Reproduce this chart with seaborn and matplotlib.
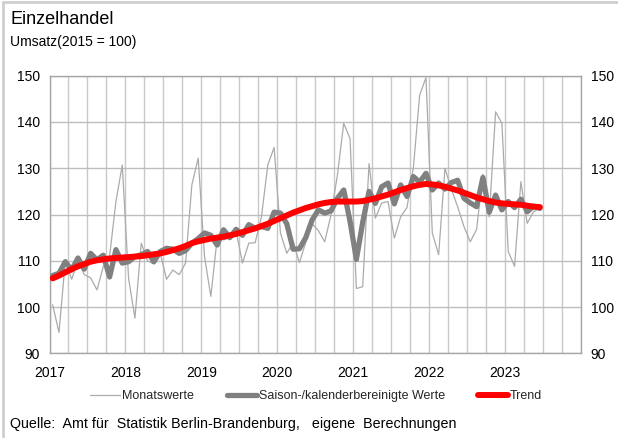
import numpy as np
import pandas as pd
import matplotlib
matplotlib.use("Agg")
import matplotlib.pyplot as plt
from matplotlib.lines import Line2D
import seaborn as sns

# ---- data -------------------------------------------------------------
year_labels = ["2017", "2018", "2019", "2020", "2021", "2022", "2023"]

monatswerte = [
    100.5, 94.5, 110.0, 106.0, 110.0, 107.0, 106.3, 103.7, 108.7, 111.0, 122.8, 130.7,   # 2017
    106.2, 97.6, 113.8, 110.0, 109.3, 111.6, 106.0, 108.0, 107.0, 109.5, 126.4, 132.2,   # 2018
    110.9, 102.3, 114.9, 114.5, 115.0, 116.3, 109.5, 113.8, 113.9, 119.5, 130.7, 134.5,  # 2019
    116.0, 111.6, 114.0, 109.6, 114.0, 118.0, 116.5, 114.1, 120.0, 128.5, 139.7, 136.4,  # 2020
    104.0, 104.4, 131.0, 119.2, 122.5, 122.8, 114.9, 119.5, 121.5, 130.0, 145.8, 149.6,  # 2021
    116.0, 111.3, 130.0, 125.5, 121.7, 117.4, 114.1, 116.8, 128.7, 119.5, 142.2, 139.7,  # 2022
    112.0, 108.8, 127.1, 118.1, 120.6, 121.4,                                            # 2023
]

saisonbereinigt = [
    106.8, 107.3, 109.8, 108.0, 110.6, 108.2, 111.6, 110.2, 111.2, 106.5, 112.4, 109.5,  # 2017
    109.8, 110.9, 111.3, 112.0, 109.8, 112.0, 112.7, 112.5, 111.6, 112.2, 113.8, 114.8,  # 2018
    116.0, 115.5, 113.4, 116.7, 115.0, 116.8, 115.5, 117.8, 117.0, 117.4, 117.0, 120.5,  # 2019
    120.3, 118.0, 112.5, 112.6, 115.0, 118.8, 121.0, 120.3, 120.8, 123.5, 125.3, 118.5,  # 2020
    110.3, 118.3, 125.0, 122.4, 126.0, 126.8, 122.3, 126.4, 123.9, 128.2, 127.0, 128.9,  # 2021
    125.3, 126.8, 125.5, 126.9, 127.4, 123.5, 122.5, 121.7, 128.0, 120.5, 124.2, 121.0,  # 2022
    122.8, 121.5, 123.3, 120.6, 121.8, 121.3,                                            # 2023
]

trend = [
    106.2, 106.8, 107.5, 108.2, 108.8, 109.3, 109.8, 110.1, 110.3, 110.5, 110.6, 110.7,  # 2017
    110.8, 110.9, 111.0, 111.2, 111.4, 111.6, 111.9, 112.3, 112.7, 113.2, 113.8, 114.2,  # 2018
    114.5, 114.8, 115.0, 115.2, 115.5, 115.8, 116.2, 116.6, 117.0, 117.5, 118.0, 118.6,  # 2019
    119.2, 119.8, 120.4, 120.9, 121.4, 121.8, 122.2, 122.5, 122.7, 122.8, 122.8, 122.8,  # 2020
    122.8, 122.9, 123.2, 123.5, 123.9, 124.3, 124.8, 125.3, 125.7, 126.1, 126.4, 126.6,  # 2021
    126.5, 126.3, 126.0, 125.6, 125.2, 124.7, 124.2, 123.7, 123.3, 122.9, 122.6, 122.4,  # 2022
    122.3, 122.2, 122.1, 121.9, 121.7, 121.6,                                            # 2023
]

y_ticks = [90, 100, 110, 120, 130, 140, 150]

# ---- frame ------------------------------------------------------------
n = len(monatswerte)
df = pd.DataFrame({
    "Monat": np.arange(n) + 0.5,
    "Monatswerte": monatswerte,
    "Saison": saisonbereinigt,
    "Trend": trend,
})

sns.set_theme(style="white")
plt.rcParams["font.family"] = ["Liberation Sans", "DejaVu Sans"]

fig = plt.figure(figsize=(6.18, 4.38), dpi=100)
ax = fig.add_axes([49.5 / 618, 1 - 353.3 / 438, (581 - 49.5) / 618, (353.3 - 75.7) / 438])

c_month = "#ababab"
c_sa = "#808080"
c_trend = "#ff0000"

sns.lineplot(data=df, x="Monat", y="Monatswerte", ax=ax, color=c_month, lw=0.9, zorder=3)
sns.lineplot(data=df, x="Monat", y="Saison", ax=ax, color=c_sa, lw=3.8, zorder=4,
             solid_joinstyle="round")
sns.lineplot(data=df, x="Monat", y="Trend", ax=ax, color=c_trend, lw=4.3, zorder=5,
             solid_capstyle="round")

ax.set_xlim(0, 84)
ax.set_ylim(90, 150)
ax.set_xticks(np.arange(0, 85, 3), minor=True)
ax.set_xticks(np.arange(0, 73, 12))
ax.set_xticklabels(year_labels)
ax.set_yticks(y_ticks)
ax.set_xlabel("")
ax.set_ylabel("")

ax.grid(True, which="both", axis="x", color="#c8c8c8", lw=1.0, zorder=0)
ax.grid(True, which="major", axis="y", color="#bdbdbd", lw=1.0, zorder=0)
for s in ax.spines.values():
    s.set_color("#a6a6a6")
    s.set_linewidth(1.0)

ax.tick_params(axis="y", which="both", left=False, right=False, labelleft=True,
               labelright=True, labelsize=10, length=0, pad=7, colors="#000000")
ax.tick_params(axis="x", which="both", bottom=False, labelsize=10, length=0, pad=9,
               colors="#000000")

# titles
fig.text(10 / 618, 1 - 20 / 438, "Einzelhandel", fontsize=13, va="center", ha="left", color="#000000")
fig.text(10 / 618, 1 - 42 / 438, "Umsatz(2015 = 100)", fontsize=10, va="center", ha="left", color="#000000")

# legend
handles = [
    Line2D([], [], color=c_month, lw=0.9),
    Line2D([], [], color=c_sa, lw=3.8),
    Line2D([], [], color=c_trend, lw=4.3),
]
labels = ["Monatswerte", "Saison-/kalenderbereinigte Werte", "Trend"]
fig.legend(handles, labels, loc="center", bbox_to_anchor=(316 / 618, 1 - 396 / 438), ncol=3,
           frameon=False, fontsize=9, handlelength=2.4, handletextpad=0.2, columnspacing=2.6)

fig.text(10 / 618, 1 - 424 / 438,
         "Quelle:  Amt für  Statistik Berlin-Brandenburg,   eigene  Berechnungen",
         fontsize=10.3, va="center", ha="left", color="#000000")

# outer frame lines (top & left)
fig.add_artist(Line2D([3 / 618, 3 / 618], [0, 1 - 2 / 438], transform=fig.transFigure, color="#cfcfcf", lw=2))
fig.add_artist(Line2D([3 / 618, 1], [1 - 2 / 438, 1 - 2 / 438], transform=fig.transFigure, color="#cfcfcf", lw=2))

fig.savefig("out.png", dpi=100)
